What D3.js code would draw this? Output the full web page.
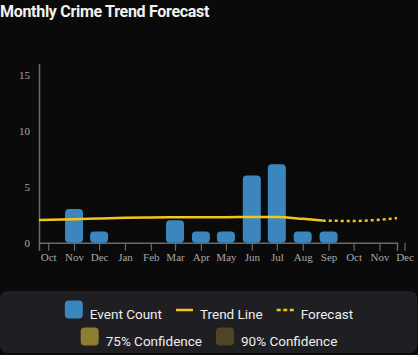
<!DOCTYPE html>
<html>
<head>
<meta charset="utf-8">
<script src="https://cdn.jsdelivr.net/npm/d3@7/dist/d3.min.js"></script>
<style>
  html, body { margin: 0; padding: 0; background: #0a0a0a; }
  svg { display: block; }
</style>
</head>
<body>
<svg id="chart" width="418" height="355"></svg>
<script>
// ---- Data ----
const tickMonths = ["2023-10-01","2023-11-01","2023-12-01","2024-01-01","2024-02-01","2024-03-01","2024-04-01","2024-05-01","2024-06-01","2024-07-01","2024-08-01","2024-09-01","2024-10-01","2024-11-01","2024-12-01"];
const tickLabels = ["Oct","Nov","Dec","Jan","Feb","Mar","Apr","May","Jun","Jul","Aug","Sep","Oct","Nov","Dec"];
const barDates = ["2023-11-01","2023-12-01","2024-03-01","2024-04-01","2024-05-01","2024-06-01","2024-07-01","2024-08-01","2024-09-01"];
const barCounts = [3, 1, 2, 1, 1, 6, 7, 1, 1];
const trendDates = ["2023-09-20","2023-11-01","2023-12-01","2024-01-01","2024-02-01","2024-03-01","2024-04-01","2024-05-01","2024-06-01","2024-07-01","2024-08-01","2024-08-25"];
const trendValues = [2.03, 2.09, 2.16, 2.22, 2.25, 2.27, 2.27, 2.28, 2.29, 2.3, 2.13, 1.97];
const forecastDates = ["2024-08-25","2024-10-01","2024-11-01","2024-11-22"];
const forecastValues = [1.97, 1.94, 2.05, 2.2];
const yTicks = [0, 5, 10, 15];
const legendRow1 = ["Event Count", "Trend Line", "Forecast"];
const legendRow2 = ["75% Confidence", "90% Confidence"];

const parse = d3.timeParse("%Y-%m-%d");
const svg = d3.select("#chart");

const x = d3.scaleTime()
  .domain([parse("2023-09-20"), parse("2024-11-22")])
  .range([39, 397]);
const y = d3.scaleLinear().domain([0, 16]).range([242.7, 63.5]);

const BAR = "#3b86bf", TREND = "#f5c518", AXIS = "#6b6b6b", TICKTXT = "#a8a8a8";

// Title
svg.append("text")
  .attr("x", 0).attr("y", 17)
  .attr("fill", "#f2f2f2")
  .style("font-family", "Roboto, 'Open Sans', sans-serif")
  .style("font-weight", "700")
  .style("font-size", "16px")
  .style("letter-spacing", "-0.3px")
  .text("Monthly Crime Trend Forecast");

// Axes
const xAxis = d3.axisBottom(x)
  .tickValues(tickMonths.map(parse))
  .tickFormat((d, i) => tickLabels[i])
  .tickSize(8).tickPadding(3);
const gx = svg.append("g").attr("transform", `translate(0,${y(0)})`).call(xAxis);
gx.select(".domain").attr("stroke", AXIS).attr("stroke-width", 1.5);
gx.selectAll(".tick line").attr("stroke", AXIS).attr("stroke-width", 1.2);
gx.selectAll(".tick text").attr("fill", TICKTXT)
  .style("font-family", "'Liberation Serif', 'DejaVu Serif', serif").style("font-size", "11px");

const yAxis = d3.axisLeft(y).tickValues(yTicks).tickSize(0).tickPadding(9);
const gy = svg.append("g").attr("transform", `translate(${x.range()[0]},0)`).call(yAxis);
gy.select(".domain").attr("stroke", AXIS).attr("stroke-width", 1.5);
gy.selectAll(".tick text").attr("fill", TICKTXT)
  .style("font-family", "'Liberation Serif', 'DejaVu Serif', serif").style("font-size", "11px");

// Bars
const barW = 18;
svg.append("g").selectAll("rect")
  .data(barDates.map((d, i) => ({ date: parse(d), v: barCounts[i] })))
  .join("rect")
  .attr("x", d => x(d.date) - barW / 2)
  .attr("y", d => y(d.v))
  .attr("width", barW)
  .attr("height", d => y(0) - y(d.v))
  .attr("rx", 4)
  .attr("fill", BAR);

// Trend and forecast
const line = d3.line().x(d => x(d.date)).y(d => y(d.v)).curve(d3.curveMonotoneX);
svg.append("path")
  .datum(trendDates.map((d, i) => ({ date: parse(d), v: trendValues[i] })))
  .attr("d", line).attr("fill", "none").attr("stroke", TREND).attr("stroke-width", 2.5);
svg.append("path")
  .datum(forecastDates.map((d, i) => ({ date: parse(d), v: forecastValues[i] })))
  .attr("d", line).attr("fill", "none").attr("stroke", TREND).attr("stroke-width", 2.5)
  .attr("stroke-dasharray", "3,3");

// Legend
const lg = svg.append("g");
lg.append("rect").attr("x", 0).attr("y", 291).attr("width", 417.5).attr("height", 62)
  .attr("rx", 8).attr("fill", "#1f1f23");

const LFONT = "Roboto, 'Open Sans', sans-serif";
function measure(t) {
  const tmp = svg.append("text").style("font-family", LFONT).style("font-size", "13.5px").text(t);
  const w = tmp.node().getComputedTextLength();
  tmp.remove();
  return w;
}
const row1Types = ["box", "line", "dash"], row1Colors = [BAR, TREND, TREND];
const row2Types = ["box", "box"], row2Colors = ["#8c7d30", "#4e4524"];
function drawRow(labels, types, colors, swTop) {
  const swW = [], gapSw = 7, gapItem = 14;
  const widths = labels.map((t, i) => {
    const sw = types[i] === "box" ? 18 : 17;
    swW.push(sw);
    return sw + gapSw + measure(t);
  });
  const total = d3.sum(widths) + gapItem * (labels.length - 1);
  let cx = 209 - total / 2;
  labels.forEach((t, i) => {
    const g = lg.append("g");
    if (types[i] === "box") {
      g.append("rect").attr("x", cx).attr("y", swTop).attr("width", 18).attr("height", 18)
        .attr("rx", 4).attr("fill", colors[i]);
    } else {
      g.append("line").attr("x1", cx).attr("x2", cx + 17)
        .attr("y1", swTop + 9.5).attr("y2", swTop + 9.5)
        .attr("stroke", colors[i]).attr("stroke-width", 2.5)
        .attr("stroke-dasharray", types[i] === "dash" ? "4,2.5" : null);
    }
    g.append("text").attr("x", cx + swW[i] + gapSw).attr("y", swTop + 18)
      .attr("fill", "#eeeeee").style("font-family", LFONT).style("font-size", "13.5px").text(t);
    cx += widths[i] + gapItem;
  });
}
drawRow(legendRow1, row1Types, row1Colors, 300.5);
drawRow(legendRow2, row2Types, row2Colors, 327.5);
</script>
</body>
</html>
